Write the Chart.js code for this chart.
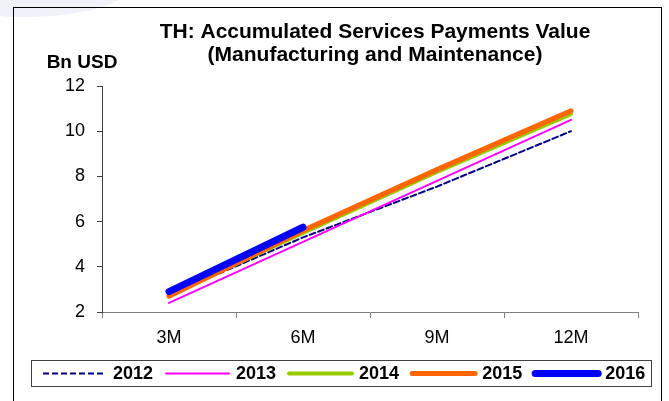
<!DOCTYPE html>
<html>
<head>
<meta charset="utf-8">
<script src="https://cdn.jsdelivr.net/npm/chart.js@4/dist/chart.umd.min.js"></script>
<style>
  html, body { margin: 0; padding: 0; background: #fff; }
  #wrap { position: relative; width: 669px; height: 401px; overflow: hidden; }
  #haze { position: absolute; left: -80px; top: -45px; width: 210px; height: 62px;
          border-radius: 50%; background: #f1f2f9; }
  #frame { position: absolute; left: 13px; top: 7px; width: 647px; height: 420px;
           border: 1px solid #000; }
  #chart { position: absolute; left: 0; top: 0; }
</style>
</head>
<body>
<div id="wrap">
  <div id="haze"></div>
  <div id="frame"></div>
  <canvas id="chart" width="669" height="401"></canvas>
</div>
<script>
// Quarterly checkpoints and accumulated values (Bn USD) per year
const periods = ['3M', '6M', '9M', '12M'];
const years = ['2012', '2013', '2014', '2015', '2016'];
const values2012 = [2.75, 5.3, 7.55, 10.0];
const values2013 = [2.4, 5.1, 7.8, 10.5];
const values2014 = [2.75, 5.5, 8.2, 10.75];
const values2015 = [2.7, 5.6, 8.3, 10.9];
const values2016 = [2.9, 5.75, null, null];
const yTicks = [2, 4, 6, 8, 10, 12];

const titleLines = ['TH: Accumulated Services Payments Value', '(Manufacturing and Maintenance)'];
const unitLabel = 'Bn USD';

const FONT = '"Liberation Sans", Arial, sans-serif';

// Title, unit label and boxed legend are drawn straight onto the canvas
const decorations = {
  id: 'decorations',
  afterDraw(chart) {
    const ctx = chart.ctx;
    ctx.save();
    ctx.fillStyle = '#000';
    ctx.textBaseline = 'middle';
    ctx.textAlign = 'center';
    ctx.font = 'bold 21px ' + FONT;
    ctx.fillText(titleLines[0], 375, 32);
    ctx.fillText(titleLines[1], 375, 55);

    ctx.font = 'bold 19px ' + FONT;
    ctx.fillText(unitLabel, 82, 63);

    // legend box
    ctx.strokeStyle = '#404040';
    ctx.lineWidth = 1;
    ctx.strokeRect(31.5, 360.5, 620, 26);

    ctx.font = 'bold 18px ' + FONT;
    ctx.textAlign = 'left';
    let x = 43;
    const y = 373.5;
    chart.data.datasets.forEach(ds => {
      ctx.beginPath();
      ctx.strokeStyle = ds.borderColor;
      ctx.lineWidth = ds.borderWidth;
      ctx.setLineDash(ds.borderDash || []);
      ctx.lineCap = ds.borderDash ? 'butt' : 'round';
      ctx.moveTo(x, y);
      ctx.lineTo(x + 63, y);
      ctx.stroke();
      ctx.setLineDash([]);
      const tx = x + 70;
      ctx.fillText(ds.label, tx, 374.5);
      x = tx + ctx.measureText(ds.label).width + 13;
    });
    ctx.restore();
  }
};

const ctx = document.getElementById('chart').getContext('2d');
const chart = new Chart(ctx, {
  type: 'line',
  data: {
    labels: periods,
    datasets: [
      { label: years[0], data: values2012, borderColor: '#000080', borderWidth: 2,
        borderDash: [6, 3], order: 5 },
      { label: years[1], data: values2013, borderColor: '#ff00ff', borderWidth: 2, order: 4 },
      { label: years[2], data: values2014, borderColor: '#99cc00', borderWidth: 4, order: 3 },
      { label: years[3], data: values2015, borderColor: '#ff6600', borderWidth: 5, order: 2 },
      { label: years[4], data: values2016, borderColor: '#0000ff', borderWidth: 7, order: 1 }
    ]
  },
  options: {
    responsive: false,
    animation: false,
    layout: { padding: { top: 86, left: 0, right: 31, bottom: 41 } },
    elements: {
      point: { radius: 0, hoverRadius: 0 },
      line: { tension: 0, fill: false, borderCapStyle: 'round', borderJoinStyle: 'round' }
    },
    plugins: {
      legend: { display: false },
      title: { display: false },
      tooltip: { enabled: false }
    },
    scales: {
      x: {
        offset: true,
        grid: { offset: true, drawOnChartArea: false, tickLength: 6, color: '#808080' },
        border: { color: '#808080' },
        ticks: { color: '#000', padding: 9, font: { family: FONT, size: 18 } },
        afterFit(scale) { scale.height = 48; }
      },
      y: {
        min: 2,
        max: 12,
        afterBuildTicks(scale) { scale.ticks = yTicks.map(v => ({ value: v })); },
        grid: { drawOnChartArea: false, tickLength: 5, color: '#404040' },
        border: { color: '#404040' },
        ticks: { color: '#000', padding: 12, font: { family: FONT, size: 18 } },
        afterFit(scale) { scale.width = 102; }
      }
    }
  },
  plugins: [decorations]
});
</script>
</body>
</html>
